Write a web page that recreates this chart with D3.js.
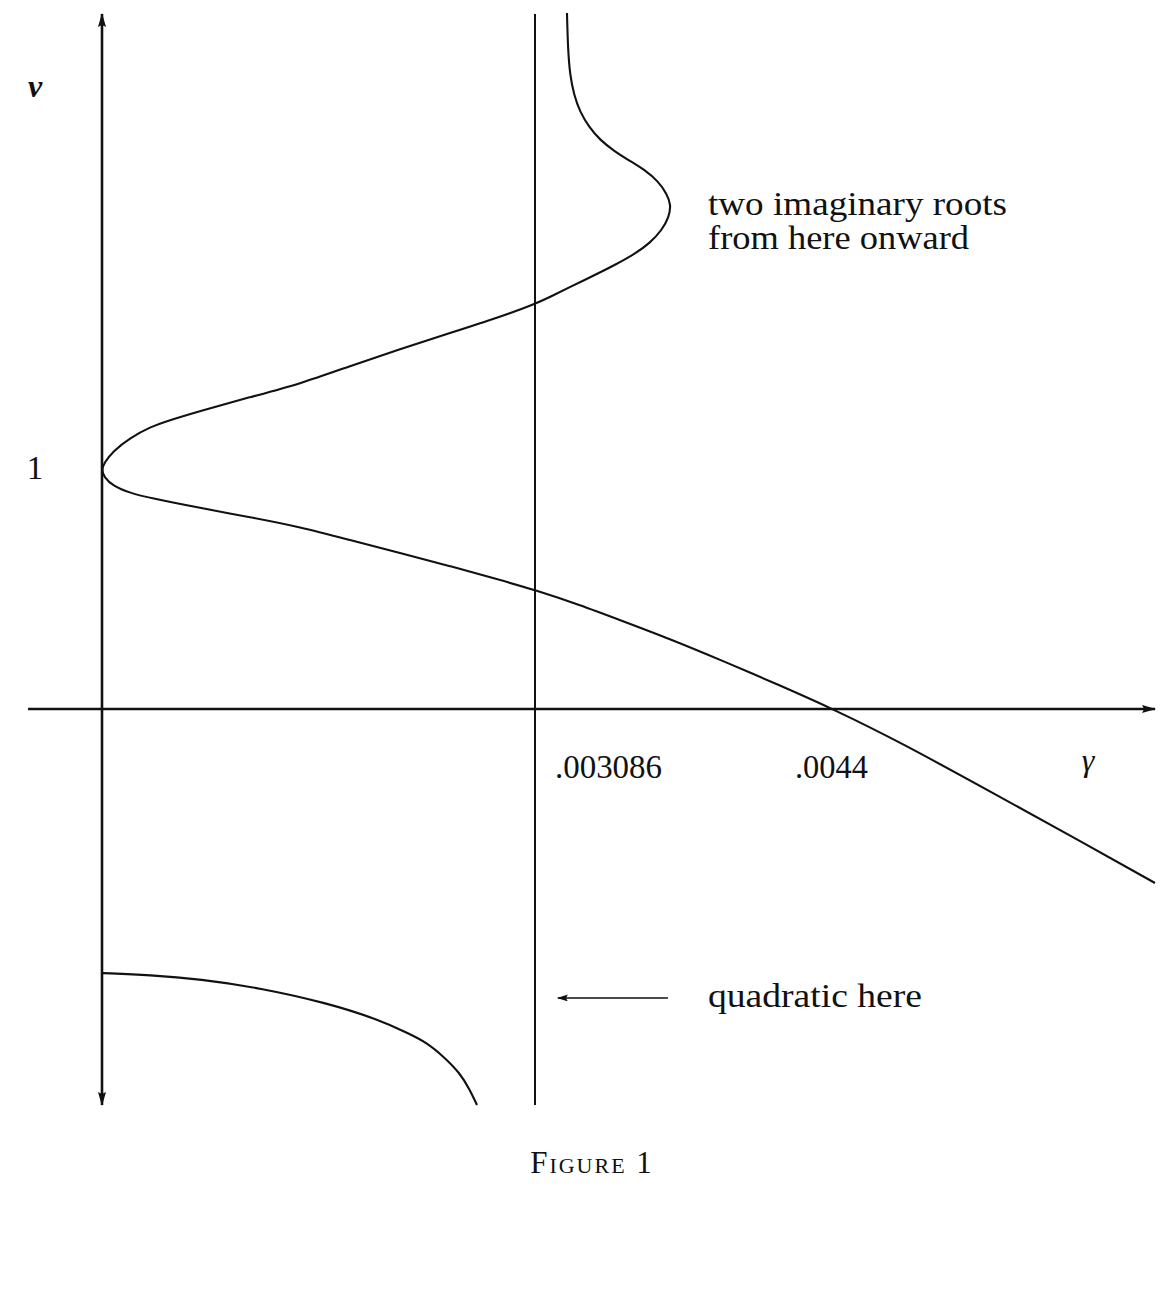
<!DOCTYPE html>
<html>
<head>
<meta charset="utf-8">
<script src="https://cdn.jsdelivr.net/npm/d3@7"></script>
<style>
  html, body { margin: 0; padding: 0; background: #fff; }
  svg { display: block; }
  text { font-family: "Liberation Serif", "DejaVu Serif", serif; fill: #111; }
</style>
</head>
<body>
<svg id="chart" width="1169" height="1298"></svg>
<script>
// ---------- data ----------
const gammaTicks = [0.003086, 0.0044];
const gammaTickLabels = [".003086", ".0044"];
const nuTicks = [1];
const nuTickLabels = ["1"];
const gammaLabel = "γ";
const nuLabel = "ν";

// axis extents (data units)
const gammaExtent = [-0.000527, 0.00582];
const nuExtent = [-1.657, 2.908];
const quadraticGamma = 0.003086;   // vertical line where the equation is quadratic

// main root curve (ordered along the curve, from the top)
const mainGamma = [
  0.0032270, 0.0032315, 0.0032403, 0.0032580, 0.0032844, 0.0033241, 0.0033726, 0.0034343,
  0.0035049, 0.0035710, 0.0036284, 0.0036680, 0.0036857, 0.0036769, 0.0036460, 0.0035931,
  0.0035269, 0.0034388, 0.0033506, 0.0032403, 0.0031521, 0.0030860, 0.0028365, 0.0024802,
  0.0021238, 0.0017675, 0.0014111, 0.0010548, 0.00069845, 0.00048464, 0.00034210, 0.00019956,
  0.000078397, 0.000014254, -0.0000025, 0.000014254, 0.000078397, 0.00019956, 0.00034210, 0.00069845,
  0.0010548, 0.0014111, 0.0017675, 0.0021238, 0.0024802, 0.0028365, 0.0030860, 0.0032844,
  0.0034608, 0.0036813, 0.0039150, 0.0041663, 0.0044, 0.0046954, 0.0051364, 0.0054891, 0.0058198];
const mainNu = [
  2.912, 2.757, 2.653, 2.569, 2.498, 2.435, 2.381, 2.335,
  2.293, 2.255, 2.209, 2.155, 2.109, 2.059, 2.004, 1.950,
  1.904, 1.858, 1.816, 1.766, 1.724, 1.695, 1.640, 1.573,
  1.506, 1.435, 1.360, 1.305, 1.247, 1.209, 1.180, 1.134,
  1.079, 1.029, 1.000, 0.971, 0.933, 0.904, 0.883, 0.841,
  0.803, 0.762, 0.707, 0.653, 0.598, 0.540, 0.498, 0.435,
  0.372, 0.293, 0.201, 0.0983, 0.0, -0.138, -0.368, -0.552, -0.728];

// lower branch
const lowerGamma = [0.0000071, 0.00034210, 0.00069845, 0.0011261, 0.0016036, 0.0019599,
  0.0021951, 0.0023163, 0.0024303, 0.0025515, 0.0026227, 0.0026726];
const lowerNu = [-1.105, -1.113, -1.130, -1.167, -1.230, -1.297,
  -1.360, -1.397, -1.452, -1.523, -1.594, -1.657];

// annotations
const noteImaginary = ["two imaginary roots", "from here onward"];
const noteQuadratic = "quadratic here";
const quadraticArrowGamma = [0.003672, 0.003187];
const quadraticArrowNu = -1.209;
const figureCaption = "Figure 1";

// ---------- scales ----------
const svg = d3.select("#chart");
const x = d3.scaleLinear().domain([0, gammaTicks[0], gammaTicks[1]]).range([102, 535, 833]);
const y = d3.scaleLinear().domain([0, 1]).range([709, 470]);

const ink = "#111";

// arrow markers
const defs = svg.append("defs");
function marker(id, w, h) {
  defs.append("marker")
    .attr("id", id)
    .attr("viewBox", `0 0 ${w} ${h}`)
    .attr("refX", w - 1).attr("refY", h / 2)
    .attr("markerWidth", w).attr("markerHeight", h)
    .attr("markerUnits", "userSpaceOnUse")
    .attr("orient", "auto-start-reverse")
    .append("path").attr("d", `M0,0 L${w},${h / 2} L0,${h} L2,${h / 2} Z`).attr("fill", ink);
}
marker("arr", 14, 8);
marker("arrS", 11, 7);

// ---------- axes ----------
svg.append("line")
  .attr("x1", x(gammaExtent[0])).attr("x2", x(gammaExtent[1]))
  .attr("y1", y(0)).attr("y2", y(0))
  .attr("stroke", ink).attr("stroke-width", 2.4)
  .attr("marker-end", "url(#arr)");

svg.append("line")
  .attr("x1", x(0)).attr("x2", x(0))
  .attr("y1", y(nuExtent[0])).attr("y2", y(nuExtent[1]))
  .attr("stroke", ink).attr("stroke-width", 2.6)
  .attr("marker-start", "url(#arr)")
  .attr("marker-end", "url(#arr)");

svg.append("line")
  .attr("x1", x(quadraticGamma)).attr("x2", x(quadraticGamma))
  .attr("y1", y(nuExtent[0])).attr("y2", y(nuExtent[1]))
  .attr("stroke", ink).attr("stroke-width", 2);

// ---------- curves ----------
const line = d3.line().x(d => x(d[0])).y(d => y(d[1])).curve(d3.curveBasis);

svg.append("path")
  .datum(mainGamma.map((g, i) => [g, mainNu[i]]))
  .attr("d", line)
  .attr("fill", "none").attr("stroke", ink).attr("stroke-width", 2.1)
  .attr("stroke-linejoin", "round");

svg.append("path")
  .datum(lowerGamma.map((g, i) => [g, lowerNu[i]]))
  .attr("d", line)
  .attr("fill", "none").attr("stroke", ink).attr("stroke-width", 2.1)
  .attr("stroke-linejoin", "round");

// ---------- tick labels ----------
const tickG = svg.append("g");
tickG.selectAll("text.gt")
  .data(gammaTicks)
  .join("text")
  .attr("class", "gt")
  .attr("x", (d, i) => i === 0 ? x(d) + 20 : x(d) - 38)
  .attr("y", y(0) + 69)
  .attr("font-size", 33)
  .attr("textLength", (d, i) => i === 0 ? 107 : 73)
  .attr("lengthAdjust", "spacingAndGlyphs")
  .text((d, i) => gammaTickLabels[i]);

tickG.selectAll("text.nt")
  .data(nuTicks)
  .join("text")
  .attr("class", "nt")
  .attr("x", 35)
  .attr("y", d => y(d) + 9)
  .attr("text-anchor", "middle")
  .attr("font-size", 33)
  .text((d, i) => nuTickLabels[i]);

svg.append("text")
  .attr("x", 1088).attr("y", 771)
  .attr("text-anchor", "middle")
  .attr("font-size", 32).attr("font-style", "italic")
  .text(gammaLabel);

svg.append("text")
  .attr("x", 35).attr("y", 97)
  .attr("text-anchor", "middle")
  .attr("font-size", 32).attr("font-style", "italic").attr("font-weight", "bold")
  .text(nuLabel);

// ---------- annotations ----------
svg.append("text")
  .attr("x", 708).attr("y", 215)
  .attr("font-size", 33)
  .attr("textLength", 299).attr("lengthAdjust", "spacingAndGlyphs")
  .text(noteImaginary[0]);
svg.append("text")
  .attr("x", 708).attr("y", 249)
  .attr("font-size", 33)
  .attr("textLength", 261).attr("lengthAdjust", "spacingAndGlyphs")
  .text(noteImaginary[1]);

svg.append("line")
  .attr("x1", x(quadraticArrowGamma[0])).attr("x2", x(quadraticArrowGamma[1]))
  .attr("y1", y(quadraticArrowNu)).attr("y2", y(quadraticArrowNu))
  .attr("stroke", ink).attr("stroke-width", 1.6)
  .attr("marker-end", "url(#arrS)");

svg.append("text")
  .attr("x", 708).attr("y", 1007)
  .attr("font-size", 33)
  .attr("textLength", 214).attr("lengthAdjust", "spacingAndGlyphs")
  .text(noteQuadratic);

// caption
svg.append("text")
  .attr("x", 592).attr("y", 1173)
  .attr("text-anchor", "middle")
  .attr("font-size", 31)
  .attr("font-variant", "small-caps")
  .attr("letter-spacing", 2)
  .text(figureCaption);
</script>
</body>
</html>
